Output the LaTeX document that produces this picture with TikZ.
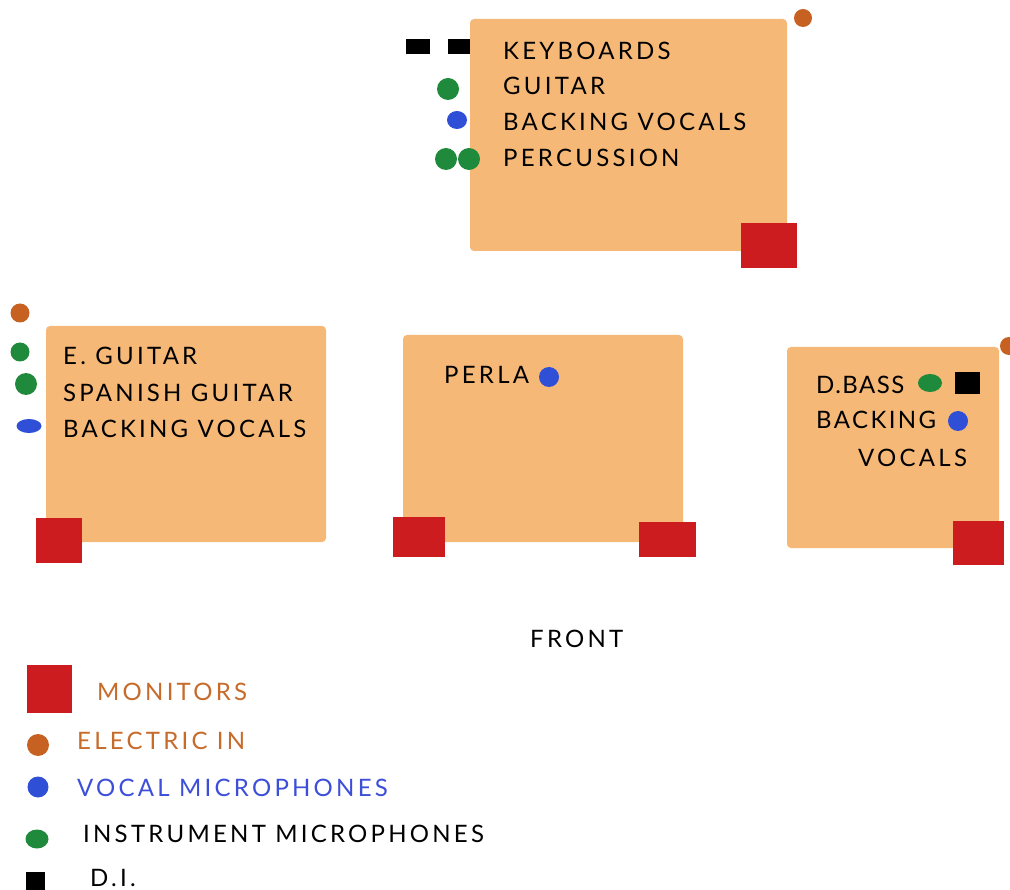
\documentclass[tikz,border=0pt]{standalone}
\usepackage{fontspec}
\setmainfont{Lato}[LetterSpace=13.5]
\usepackage{tikz}
\usetikzlibrary{calc}
\definecolor{stagefill}{rgb}{0.965,0.722,0.467}
\definecolor{monred}{rgb}{0.80,0.11,0.12}
\definecolor{elecorange}{rgb}{0.78,0.38,0.13}
\definecolor{vocblue}{rgb}{0.18,0.31,0.84}
\definecolor{instgreen}{rgb}{0.12,0.54,0.23}
\definecolor{legorange}{rgb}{0.78,0.42,0.17}
\definecolor{legblue}{rgb}{0.24,0.31,0.85}
\tikzset{every node/.style={font=\fontsize{24}{28}\selectfont,inner sep=0pt,anchor=base west}}

\begin{document}
\begin{tikzpicture}[line cap=round,line join=round,x=1pt,y=-1pt]
            \clip (0,0) rectangle (1010,890);
            \fill[white] (0,0) rectangle (1010,890);
            % stage risers
            \fill[stagefill,rounded corners=4pt] (470,19) rectangle (787,251);
            \fill[stagefill,rounded corners=4pt] (46,326) rectangle (326,542);
            \fill[stagefill,rounded corners=4pt] (403,335) rectangle (683,542);
            \fill[stagefill,rounded corners=4pt] (787,347) rectangle (999,548);
            % monitors
            \fill[monred] (741,223) rectangle (797,268);
            \fill[monred] (36,518) rectangle (82,563);
            \fill[monred] (393,517) rectangle (445,557);
            \fill[monred] (639,522) rectangle (696,557);
            \fill[monred] (953,521) rectangle (1004,565);
            % top riser
            \fill[elecorange] (803,18) circle (9pt);
            \fill[black] (406,39) rectangle (430,54);
            \fill[black] (448,39) rectangle (470,54);
            \fill[instgreen] (448,89) circle (11pt);
            \fill[vocblue] (457,120) ellipse [x radius=10pt,y radius=9pt];
            \fill[instgreen] (446,159) circle (11pt);
            \fill[instgreen] (469,159) circle (11pt);
            \node (keys) at (503,60) {KEYBOARDS};
            \node (gtr) at (503,95) {GUITAR};
            \node (bvtop) at (503,131) {BACKING VOCALS};
            \node (perc) at (503,167) {PERCUSSION};
            % left riser
            \fill[elecorange] (20,313) circle (9.5pt);
            \fill[instgreen] (20,352) circle (9.5pt);
            \fill[instgreen] (26,384) circle (11pt);
            \fill[vocblue] (29,426) ellipse [x radius=12.5pt,y radius=7pt];
            \node (egtr) at (63,365) {E. GUITAR};
            \node (spgtr) at (63,402) {SPANISH GUITAR};
            \node (bvleft) at (63,438) {BACKING VOCALS};
            % centre riser
            \node (perla) at (444,384) {PERLA};
            \fill[vocblue] (549,377) circle (10pt);
            % right riser
            \fill[elecorange] (1009,346) circle (9pt);
            \node (dbass) at (816,394) {\addfontfeatures{LetterSpace=6}D.BASS};
            \fill[instgreen] (930,383) ellipse [x radius=12pt,y radius=9pt];
            \fill[black] (955,372) rectangle (980,394);
            \node (bvright) at (816,429) {\addfontfeatures{LetterSpace=10}BACKING};
            \fill[vocblue] (958,421) circle (10pt);
            \node (vocright) at (858,467) {VOCALS};
            \node (front) at (530,647) {FRONT};
            % legend
            \fill[monred] (27,665) rectangle (72,713);
            \node[text=legorange] (lmon) at (97,700) {MONITORS};
            \fill[elecorange] (38,745) circle (11pt);
            \node[text=legorange] (lelec) at (77,749) {ELECTRIC IN};
            \fill[vocblue] (38,787) circle (10.5pt);
            \node[text=legblue] (lvoc) at (77,796) {VOCAL MICROPHONES};
            \fill[instgreen] (37,839) ellipse [x radius=11.5pt,y radius=9.5pt];
            \node (linst) at (83,842) {INSTRUMENT MICROPHONES};
            \fill[black] (26,872) rectangle (45,892);
            \node (ldi) at (90,886) {D.I.};
        \end{tikzpicture}
\end{document}
